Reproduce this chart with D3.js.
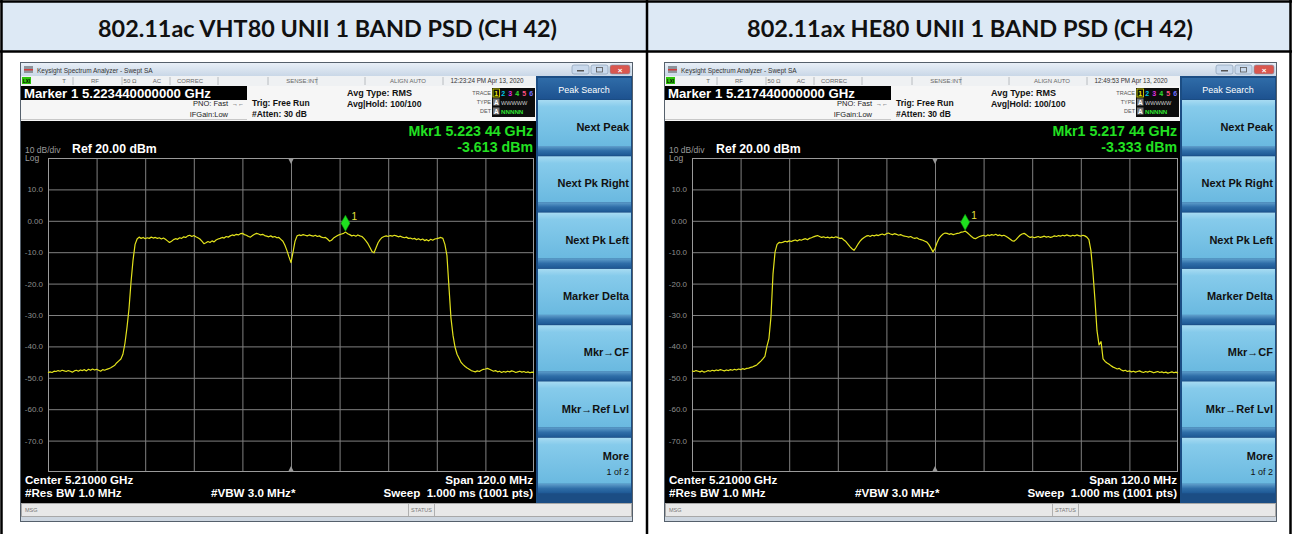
<!DOCTYPE html>
<html>
<head>
<meta charset="utf-8">
<script src="https://cdn.jsdelivr.net/npm/d3@7"></script>
<style>
  body { margin: 0; background: #fff; }
  svg text { font-family: "Liberation Sans", Arial, sans-serif; white-space: pre; }
</style>
</head>
<body>
<svg id="chart" width="1292" height="534"></svg>
<script>
// ---- data ----
const titles = ["802.11ac VHT80 UNII 1 BAND PSD (CH 42)", "802.11ax HE80 UNII 1 BAND PSD (CH 42)"];
const markerLines = ["Marker 1 5.223440000000 GHz", "Marker 1 5.217440000000 GHz"];
const mkrFreqLabels = ["Mkr1 5.223 44 GHz", "Mkr1 5.217 44 GHz"];
const mkrLevelLabels = ["-3.613 dBm", "-3.333 dBm"];
const clockLabels = ["12:23:24 PM Apr 13, 2020", "12:49:53 PM Apr 13, 2020"];
const markerFreqs = [5223.44, 5217.44];
const markerLevels = [-3.613, -3.333];

const startFreq = 5150, stopFreq = 5270, stepFreq = 0.5;   // 5.21 GHz center, 120 MHz span
const refLevel = 20, bottomLevel = -80;
const yTickValues = [10, 0, -10, -20, -30, -40, -50, -60, -70];
const yTickLabels = ["10.0", "0.00", "-10.0", "-20.0", "-30.0", "-40.0", "-50.0", "-60.0", "-70.0"];
const xGridFreqs = [5162, 5174, 5186, 5198, 5210, 5222, 5234, 5246, 5258];
const softkeys = ["Next Peak", "Next Pk Right", "Next Pk Left", "Marker Delta", "Mkr\u2192CF", "Mkr\u2192Ref Lvl", "More"];

// dBm every 0.5 MHz from 5150 to 5270 MHz
const vhtTrace = [
  -48.4,-48.1,-48.3,-47.9,-48.0,-47.7,-47.9,-47.6,-47.8,-48.0,
  -47.7,-47.9,-48.2,-47.8,-47.6,-47.9,-47.5,-47.7,-47.4,-47.8,
  -47.3,-47.6,-47.2,-47.5,-47.3,-47.6,-47.9,-47.4,-47.6,-47.3,
  -47.1,-46.8,-46.4,-46.0,-45.2,-44.6,-44.0,-42.5,-39.0,-34.0,
  -28.0,-19.5,-12.5,-7.5,-5.8,-5.2,-5.6,-5.3,-5.7,-5.4,
  -5.6,-5.2,-5.5,-5.3,-5.6,-5.4,-5.8,-5.5,-5.9,-6.4,
  -6.9,-6.5,-6.0,-5.7,-5.9,-5.4,-5.6,-5.1,-5.3,-4.8,
  -4.6,-5.0,-4.7,-5.1,-5.4,-5.8,-6.5,-7.3,-7.0,-6.6,
  -6.9,-6.4,-6.7,-6.1,-5.8,-5.6,-5.3,-5.5,-5.0,-5.2,
  -4.8,-4.5,-4.7,-4.3,-4.5,-4.1,-4.0,-4.4,-4.6,-5.0,
  -5.2,-4.7,-4.3,-4.0,-4.2,-4.5,-4.3,-4.7,-4.9,-5.1,
  -4.8,-5.2,-5.0,-5.4,-5.3,-5.9,-6.5,-7.8,-9.5,-11.5,
  -13.3,-10.0,-6.5,-4.8,-4.5,-4.7,-4.4,-4.6,-4.8,-4.5,
  -4.7,-4.9,-4.6,-5.0,-4.8,-5.2,-5.4,-5.3,-5.8,-6.5,
  -6.2,-5.5,-5.1,-4.7,-4.4,-4.2,-4.0,-3.6,-4.1,-4.4,
  -4.8,-4.6,-4.9,-4.5,-4.8,-5.0,-5.6,-6.4,-7.3,-8.5,
  -9.8,-10.2,-8.6,-7.0,-6.0,-5.3,-5.0,-4.8,-5.0,-4.7,
  -4.9,-4.6,-4.8,-5.1,-4.9,-5.2,-5.4,-5.2,-5.6,-5.5,
  -5.8,-5.6,-6.0,-5.7,-6.1,-5.8,-6.3,-6.0,-6.4,-5.9,
  -6.2,-5.8,-5.7,-5.5,-5.3,-5.6,-7.5,-11.0,-21.0,-31.0,
  -36.5,-40.2,-42.5,-43.8,-45.1,-45.8,-46.4,-46.9,-47.3,-47.7,
  -47.9,-48.1,-47.8,-48.0,-47.6,-47.3,-47.2,-47.0,-47.3,-47.6,
  -47.9,-47.7,-48.1,-47.9,-48.3,-48.0,-48.2,-47.9,-48.1,-47.8,
  -48.0,-48.3,-48.1,-47.9,-48.2,-48.0,-48.3,-48.1,-48.4,-48.2,
  -48.3
];
const heTrace = [
  -47.8,-48.0,-47.7,-47.9,-48.1,-47.8,-48.2,-48.0,-47.7,-47.9,
  -47.6,-47.8,-47.5,-47.7,-47.4,-47.6,-47.8,-47.5,-47.7,-47.4,
  -47.6,-47.3,-47.5,-47.2,-47.4,-47.1,-47.3,-47.0,-46.9,-46.7,
  -46.5,-46.2,-45.9,-45.3,-44.7,-44.0,-43.2,-40.0,-37.5,-30.5,
  -17.0,-10.0,-7.5,-6.9,-7.0,-6.8,-6.5,-6.7,-6.4,-6.6,
  -6.3,-6.1,-6.4,-6.0,-6.2,-5.9,-5.7,-6.0,-5.6,-5.4,
  -5.1,-4.9,-4.7,-5.0,-5.3,-5.1,-5.4,-5.2,-5.5,-5.2,
  -5.4,-5.1,-5.3,-5.6,-5.5,-6.1,-6.6,-7.4,-8.2,-8.9,
  -9.4,-8.5,-7.4,-6.5,-5.8,-5.3,-4.9,-4.7,-5.0,-4.6,
  -4.8,-4.5,-4.7,-4.4,-4.2,-4.5,-4.1,-3.9,-4.2,-4.4,
  -4.1,-4.3,-4.6,-4.4,-4.7,-4.9,-5.0,-5.2,-5.0,-5.4,
  -5.6,-5.4,-5.8,-6.0,-6.2,-6.5,-6.8,-7.6,-8.7,-9.9,
  -8.8,-7.0,-5.6,-4.8,-4.2,-3.9,-4.0,-4.3,-4.1,-4.4,
  -4.2,-4.0,-3.9,-3.6,-3.5,-3.3,-3.8,-4.4,-5.0,-5.5,
  -5.7,-5.3,-5.0,-4.8,-4.6,-4.9,-4.5,-4.7,-4.4,-4.6,
  -4.3,-4.7,-4.5,-4.8,-4.6,-4.9,-5.3,-5.8,-6.3,-6.5,
  -6.0,-5.3,-4.6,-4.2,-4.0,-4.4,-4.9,-5.3,-5.1,-5.4,
  -5.2,-5.0,-5.3,-5.1,-4.9,-5.2,-5.0,-5.3,-5.1,-4.8,
  -5.0,-4.7,-4.9,-4.6,-4.8,-4.5,-4.7,-4.9,-4.6,-4.8,
  -4.5,-4.7,-4.9,-4.6,-4.8,-5.2,-6.0,-9.5,-16.5,-25.2,
  -35.0,-39.5,-38.5,-44.0,-44.8,-45.3,-45.7,-46.2,-46.6,-46.9,
  -47.2,-47.0,-47.5,-47.8,-47.6,-48.0,-47.8,-48.1,-47.9,-48.2,
  -48.0,-47.8,-48.1,-48.3,-48.0,-48.2,-47.9,-48.1,-48.4,-48.2,
  -48.0,-48.3,-48.1,-48.4,-48.2,-48.5,-48.3,-48.1,-48.4,-48.2,
  -48.5
];
const traces = [vhtTrace, heTrace];

const svg = d3.select('#chart');
const defs = svg.append('defs');

function vGrad(id, stops) {
  const g = defs.append('linearGradient').attr('id', id)
    .attr('x1', 0).attr('y1', 0).attr('x2', 0).attr('y2', 1);
  stops.forEach(s => g.append('stop').attr('offset', s[0]).attr('stop-color', s[1]));
}
vGrad('titlebar', [[0, '#e8eff7'], [1, '#c9d7e7']]);
vGrad('btn', [[0, '#a7dbf2'], [0.15, '#86cbeb'], [1, '#6ab9e0']]);
vGrad('band', [[0, '#5f9fcc'], [0.5, '#2f6ea8'], [1, '#1d5894']]);
vGrad('hdr', [[0, '#2f6ca8'], [1, '#1d5290']]);

// ---- table around the screenshots ----
svg.append('rect').attr('x', 2).attr('y', 2).attr('width', 1288).attr('height', 49).attr('fill', '#dde9f5');
const tbl = svg.append('g').attr('stroke', '#000').attr('stroke-width', 2.5);
tbl.append('line').attr('x1', 0).attr('x2', 1292).attr('y1', 1.5).attr('y2', 1.5);
tbl.append('line').attr('x1', 0).attr('x2', 1292).attr('y1', 51.5).attr('y2', 51.5);
tbl.append('line').attr('x1', 1.5).attr('x2', 1.5).attr('y1', 0).attr('y2', 534);
tbl.append('line').attr('x1', 647).attr('x2', 647).attr('y1', 0).attr('y2', 534);
tbl.append('line').attr('x1', 1290.5).attr('x2', 1290.5).attr('y1', 0).attr('y2', 534);

titles.forEach((t, i) => {
  svg.append('text')
    .attr('x', i === 0 ? 327.5 : 970).attr('y', 36.5)
    .attr('text-anchor', 'middle')
    .attr('textLength', i === 0 ? 459 : 446).attr('lengthAdjust', 'spacingAndGlyphs')
    .style('font-family', 'Lato, "Open Sans", sans-serif')
    .style('font-weight', 'bold').style('font-size', '22px').attr('fill', '#111')
    .text(t);
});

// ---- one analyzer screenshot ----
const x = d3.scaleLinear().domain([startFreq, stopFreq]).range([48, 534]);
const y = d3.scaleLinear().domain([bottomLevel, refLevel]).range([472, 158]);

function txt(g, px, py, s, size, fill, opts = {}) {
  return g.append('text').attr('x', px).attr('y', py)
    .attr('text-anchor', opts.anchor || 'start')
    .style('font-size', size + 'px')
    .style('font-weight', opts.bold ? 'bold' : 'normal')
    .attr('fill', fill).text(s);
}

function drawPanel(k) {
  const g = svg.append('g').attr('transform', `translate(${k * 644},0)`);

  // window frame + title bar
  g.append('rect').attr('x', 20.5).attr('y', 62.5).attr('width', 612).attr('height', 459)
    .attr('fill', '#cdd6e0').attr('stroke', '#55606c');
  g.append('rect').attr('x', 21).attr('y', 63).attr('width', 611).attr('height', 13).attr('fill', 'url(#titlebar)');
  g.append('rect').attr('x', 24).attr('y', 66).attr('width', 9).attr('height', 7).attr('fill', '#8c939b');
  g.append('rect').attr('x', 24).attr('y', 69).attr('width', 9).attr('height', 1.5).attr('fill', '#d23a3a');
  txt(g, 37, 72.5, 'Keysight Spectrum Analyzer - Swept SA', 6.5, '#333');
  [[572, '#c9d9ec'], [591, '#c9d9ec'], [610, '#d9574f']].forEach(b => {
    g.append('rect').attr('x', b[0]).attr('y', 65).attr('width', b[0] === 610 ? 20 : 17).attr('height', 9)
      .attr('rx', 2).attr('fill', b[1]).attr('stroke', '#7d93ad').attr('stroke-width', 0.6);
  });
  g.append('rect').attr('x', 577).attr('y', 70).attr('width', 7).attr('height', 1.5).attr('fill', '#555');
  g.append('rect').attr('x', 596.5).attr('y', 67.5).attr('width', 6).attr('height', 4.5).attr('fill', 'none').attr('stroke', '#555').attr('stroke-width', 0.8);
  txt(g, 620, 72.5, '\u00d7', 8, '#fff', { anchor: 'middle', bold: true });

  // status line
  g.append('rect').attr('x', 21).attr('y', 76).attr('width', 515).attr('height', 10).attr('fill', '#eff1f3');
  g.append('rect').attr('x', 22).attr('y', 77).attr('width', 9).attr('height', 7).attr('fill', '#2ec40a');
  txt(g, 26.5, 83, 'LXI', 4.5, '#000', { anchor: 'middle', bold: true });
  [52, 101, 149, 197, 247, 296, 344, 422].forEach(sx => {
    g.append('line').attr('x1', 21 + sx).attr('x2', 21 + sx).attr('y1', 77).attr('y2', 85).attr('stroke', '#b8bcc0');
  });
  [[64, 'T'], [95, 'RF'], [130, '50 \u03a9'], [157, 'AC'], [190, 'CORREC'], [302, 'SENSE:INT'], [408, 'ALIGN AUTO']].forEach(s => {
    txt(g, s[0], 83, s[1], 6, '#666', { anchor: 'middle' });
  });
  txt(g, 487, 83, clockLabels[k], 6.3, '#333', { anchor: 'middle' });

  // marker line + settings block
  g.append('rect').attr('x', 21).attr('y', 86).attr('width', 515).attr('height', 35).attr('fill', '#f6f6f6');
  g.append('rect').attr('x', 21).attr('y', 86).attr('width', 226).attr('height', 14).attr('fill', '#000');
  txt(g, 24, 97.5, markerLines[k], 13.2, '#fff', { bold: true });
  g.append('line').attr('x1', 21).attr('x2', 247).attr('y1', 119.5).attr('y2', 119.5).attr('stroke', '#c8c8c8');
  txt(g, 228, 106, 'PNO: Fast', 7.5, '#222', { anchor: 'end' });
  txt(g, 238, 105.5, '\u2192\u2190', 6, '#222', { anchor: 'middle' });
  txt(g, 228, 117, 'IFGain:Low', 7.5, '#222', { anchor: 'end' });
  txt(g, 252, 106, 'Trig: Free Run', 8.5, '#111', { bold: true });
  txt(g, 252, 117, '#Atten: 30 dB', 8.5, '#111', { bold: true });
  txt(g, 347, 96, 'Avg Type: RMS', 9, '#111', { bold: true });
  txt(g, 347, 106.5, 'Avg|Hold: 100/100', 8.7, '#111', { bold: true });

  // trace / type / det box
  g.append('rect').attr('x', 492).attr('y', 88).attr('width', 43).attr('height', 29).attr('fill', '#0c0c0c');
  txt(g, 491, 95, 'TRACE', 5.5, '#555', { anchor: 'end' });
  txt(g, 491, 104, 'TYPE', 5.5, '#555', { anchor: 'end' });
  txt(g, 491, 113, 'DET', 5.5, '#555', { anchor: 'end' });
  g.append('rect').attr('x', 493).attr('y', 89).attr('width', 6.5).attr('height', 8).attr('fill', 'none').attr('stroke', '#e8e800').attr('stroke-width', 0.8);
  ['#e8e800', '#00c8e8', '#e030e0', '#30e030', '#ff5080', '#7070ff'].forEach((c, j) => {
    txt(g, 496.3 + j * 7, 96, String(j + 1), 7, c, { anchor: 'middle', bold: true });
  });
  g.append('rect').attr('x', 493).attr('y', 98.5).attr('width', 6.5).attr('height', 7).attr('fill', '#777');
  txt(g, 496.3, 104.5, 'A', 6.5, '#fff', { anchor: 'middle', bold: true });
  txt(g, 501, 104.5, 'WWWWW', 5.6, '#ccc', {});
  g.append('rect').attr('x', 493).attr('y', 107.5).attr('width', 6.5).attr('height', 7).attr('fill', '#777');
  txt(g, 496.3, 113.5, 'A', 6.5, '#fff', { anchor: 'middle', bold: true });
  txt(g, 501, 113.5, 'NNNNN', 6.2, '#30e030', { bold: true });

  // black screen
  g.append('rect').attr('x', 21).attr('y', 121).attr('width', 516).attr('height', 382).attr('fill', '#000');
  txt(g, 533, 136, mkrFreqLabels[k], 14.2, '#22e022', { anchor: 'end', bold: true });
  txt(g, 533, 151.5, mkrLevelLabels[k], 14.2, '#22e022', { anchor: 'end', bold: true });
  txt(g, 25, 153, '10 dB/div', 8.5, '#9a9a9a');
  txt(g, 25, 161, 'Log', 8.5, '#9a9a9a');
  txt(g, 72, 153, 'Ref 20.00 dBm', 12.3, '#fff', { bold: true });

  // graticule
  const grid = g.append('g');
  grid.append('g').attr('transform', 'translate(0,472)')
    .call(d3.axisBottom(x).tickValues(xGridFreqs).tickSize(-(472 - 158)).tickFormat(''))
    .call(a => a.select('.domain').remove())
    .selectAll('line').attr('stroke', '#808080');
  grid.append('g').attr('transform', 'translate(48,0)')
    .call(d3.axisLeft(y).tickValues(yTickValues).tickSize(-(534 - 48)).tickFormat((d, i) => yTickLabels[i]).tickPadding(5))
    .call(a => a.select('.domain').remove())
    .call(a => a.selectAll('line').attr('stroke', '#808080'))
    .call(a => a.selectAll('text').attr('fill', '#8e8e8e').style('font-size', '8px')
      .style('font-family', '"Liberation Sans", Arial, sans-serif'));
  g.append('rect').attr('x', 48.5).attr('y', 158.5).attr('width', 485).attr('height', 313)
    .attr('fill', 'none').attr('stroke', '#9a9a9a');
  const cx = x((startFreq + stopFreq) / 2);
  g.append('path').attr('d', `M${cx - 3},158 L${cx + 3},158 L${cx},164 Z`).attr('fill', '#999');
  g.append('path').attr('d', `M${cx - 3},472 L${cx + 3},472 L${cx},466 Z`).attr('fill', '#999');

  // trace
  const line = d3.line()
    .x((d, i) => x(startFreq + i * stepFreq))
    .y(d => y(d));
  g.append('path').datum(traces[k]).attr('d', line)
    .attr('fill', 'none').attr('stroke', '#e2e21c').attr('stroke-width', 1.2).attr('stroke-linejoin', 'round');

  // marker
  const mx = x(markerFreqs[k]), my = y(markerLevels[k]);
  g.append('path').attr('d', `M${mx},${my - 1} L${mx + 4.5},${my - 9} L${mx},${my - 17} L${mx - 4.5},${my - 9} Z`)
    .attr('fill', '#1fe01f').attr('stroke', '#0b9a0b').attr('stroke-width', 0.5);
  txt(g, mx + 6, my - 12, '1', 10, '#e4e43c');

  // bottom annotations
  txt(g, 25, 484, 'Center 5.21000 GHz', 11.6, '#fff', { bold: true });
  txt(g, 533, 484, 'Span 120.0 MHz', 11.6, '#fff', { bold: true, anchor: 'end' });
  txt(g, 25, 497, '#Res BW 1.0 MHz', 11.6, '#fff', { bold: true });
  txt(g, 211, 497, '#VBW 3.0 MHz*', 11.6, '#fff', { bold: true });
  txt(g, 533, 497, 'Sweep  1.000 ms (1001 pts)', 11.6, '#fff', { bold: true, anchor: 'end' });

  // softkey column
  g.append('rect').attr('x', 536).attr('y', 76).attr('width', 96).attr('height', 427).attr('fill', '#1b4d84');
  g.append('rect').attr('x', 538).attr('y', 78).attr('width', 93).attr('height', 21).attr('fill', 'url(#hdr)');
  txt(g, 584, 92.5, 'Peak Search', 9, '#fff', { anchor: 'middle' });
  softkeys.forEach((s, j) => {
    const top = 100 + j * 56.3;
    g.append('rect').attr('x', 538).attr('y', top).attr('width', 93).attr('height', 46).attr('fill', 'url(#btn)');
    g.append('rect').attr('x', 538).attr('y', top + 46).attr('width', 93).attr('height', 9.5).attr('fill', 'url(#band)');
    if (s === 'More') {
      txt(g, 629, top + 22, s, 11, '#111', { anchor: 'end', bold: true });
      txt(g, 629, top + 37, '1 of 2', 9, '#111', { anchor: 'end' });
    } else {
      txt(g, 629, top + 31, s, 11, '#111', { anchor: 'end', bold: true });
    }
  });

  // message bar
  g.append('rect').attr('x', 21.5).attr('y', 503.5).attr('width', 610).attr('height', 13)
    .attr('fill', '#e8e8e8').attr('stroke', '#a8a8a8');
  txt(g, 25, 512, 'MSG', 5.5, '#777');
  g.append('line').attr('x1', 408.5).attr('x2', 408.5).attr('y1', 504).attr('y2', 516).attr('stroke', '#b0b0b0');
  g.append('line').attr('x1', 434.5).attr('x2', 434.5).attr('y1', 504).attr('y2', 516).attr('stroke', '#b0b0b0');
  txt(g, 421.5, 512, 'STATUS', 5.5, '#777', { anchor: 'middle' });
}

drawPanel(0);
drawPanel(1);
</script>
</body>
</html>
